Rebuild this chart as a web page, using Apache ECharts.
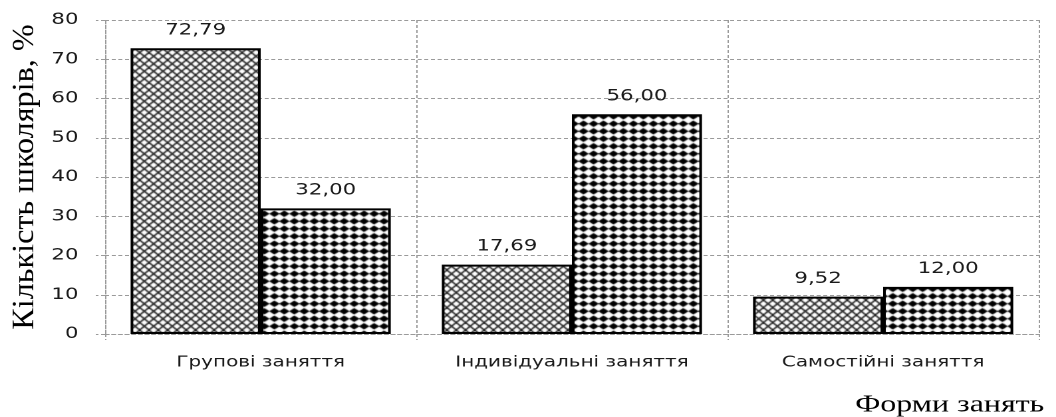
<!DOCTYPE html>
<html>
<head>
<meta charset="utf-8">
<script src="https://cdn.jsdelivr.net/npm/echarts@6/dist/echarts.min.js"></script>
<style>
  html, body { margin: 0; padding: 0; background: #fff; overflow: hidden; width: 1056px; height: 417px; }
  #wrap { width: 1056px; height: 417px; overflow: hidden; }
  #chart { width: 794px; height: 417px; transform: scaleX(1.33); transform-origin: 0 0; }
</style>
</head>
<body>
<div id="wrap"><div id="chart"></div></div>
<script>
const categories = ['Групові заняття', 'Індивідуальні заняття', 'Самостійні заняття'];
const seriesA = [72.79, 17.69, 9.52];
const seriesB = [32.00, 56.00, 12.00];
const yMin = 0, yMax = 80, yStep = 10;
const yTitle = 'Кількість школярів, %';
const xTitle = 'Форми занять';

function crossHatch() {
  const c = document.createElement('canvas');
  c.width = 14; c.height = 15;
  const g = c.getContext('2d');
  g.fillStyle = '#fff'; g.fillRect(0, 0, 14, 15);
  g.strokeStyle = '#222'; g.lineWidth = 1.25;
  for (let k = -2; k <= 3; k++) {
    const x0 = k * 7;
    g.beginPath(); g.moveTo(x0, 0); g.lineTo(x0 + 14, 15); g.stroke();
    g.beginPath(); g.moveTo(x0, 15); g.lineTo(x0 + 14, 0); g.stroke();
  }
  return c;
}
function solidDiamond() {
  const c = document.createElement('canvas');
  c.width = 15; c.height = 15;
  const g = c.getContext('2d');
  g.fillStyle = '#fff'; g.fillRect(0, 0, 15, 15);
  g.fillStyle = '#000';
  for (let i = 0; i < 2; i++) for (let j = 0; j < 2; j++) {
    const cx = 3.75 + i * 7.5, cy = 3.75 + j * 7.5;
    g.beginPath();
    g.moveTo(cx - 3.9, cy); g.lineTo(cx, cy - 3.3); g.lineTo(cx + 3.9, cy); g.lineTo(cx, cy + 3.3);
    g.closePath(); g.fill();
  }
  return c;
}

const fmt = v => v.toFixed(2).replace('.', ',');
const gridLine = { color: '#9a9a9a', width: 1, type: [3, 2] };
const txt = '#1a1a1a';

const chart = echarts.init(document.getElementById('chart'), null, { devicePixelRatio: 2 });
chart.setOption({
  animation: false,
  grid: { left: 79, right: 13, top: 20, bottom: 83, containLabel: false },
  xAxis: {
    type: 'category',
    data: categories,
    axisLine: { show: true, lineStyle: gridLine },
    axisTick: { show: true, length: 6, lineStyle: gridLine },
    splitLine: { show: true, lineStyle: gridLine },
    axisLabel: { margin: 21, fontFamily: 'DejaVu Sans', fontSize: 15, color: txt }
  },
  yAxis: {
    type: 'value',
    min: yMin, max: yMax, interval: yStep,
    axisLine: { show: true, lineStyle: gridLine },
    axisTick: { show: true, length: 7, lineStyle: gridLine },
    splitLine: { show: true, lineStyle: gridLine },
    axisLabel: { margin: 20, fontFamily: 'DejaVu Sans', fontSize: 16, color: txt }
  },
  series: [
    {
      type: 'bar', data: seriesA, barWidth: '41.8%', barGap: '0%',
      itemStyle: { color: { image: crossHatch(), repeat: 'repeat' }, borderColor: '#000', borderWidth: 2 },
      label: { show: true, position: 'top', distance: 10, formatter: p => fmt(p.value), fontFamily: 'DejaVu Sans', fontSize: 16, color: txt }
    },
    {
      type: 'bar', data: seriesB, barWidth: '41.8%', barGap: '0%',
      itemStyle: { color: { image: solidDiamond(), repeat: 'repeat' }, borderColor: '#000', borderWidth: 2 },
      label: { show: true, position: 'top', distance: 10, formatter: p => fmt(p.value), fontFamily: 'DejaVu Sans', fontSize: 16, color: txt }
    }
  ],
  graphic: [
    {
      type: 'text', x: 19, y: 177, rotation: Math.PI / 2, scaleX: 1.4, scaleY: 1,
      style: { text: yTitle, fontFamily: 'Liberation Serif', fontSize: 23, fill: '#000', textAlign: 'center', textVerticalAlign: 'middle' }
    },
    {
      type: 'text', x: 714, y: 405,
      style: { text: xTitle, fontFamily: 'Liberation Serif', fontSize: 24, fill: '#000', textAlign: 'center', textVerticalAlign: 'middle' }
    }
  ]
});
</script>
</body>
</html>
